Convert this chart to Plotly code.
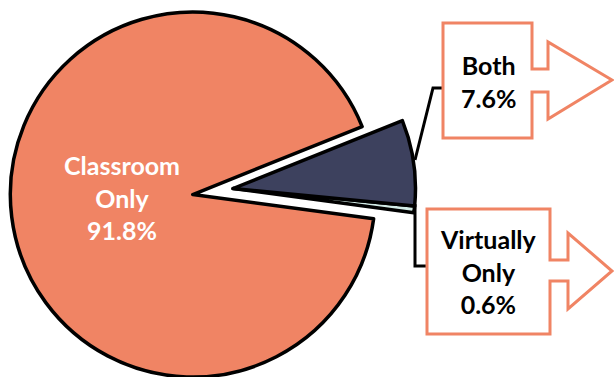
import plotly.graph_objects as go

# Share of students by learning mode
labels = ["Virtually Only", "Both", "Classroom Only"]
shares = [0.6, 7.6, 91.8]
slice_colors = ["#D3EBE6", "#3D415E", "#F08464"]

W, H = 614, 377
CLEAR = "rgba(0,0,0,0)"
OUTLINE = "#000000"
CALLOUT = "#F08464"
FONT = "Lato"


def px(x, y):
    """Pixel position -> paper coordinates."""
    return x / W, 1 - y / H


def label_text(i):
    return "<br>".join(labels[i].split(" ") + [f"{shares[i]:.1f}%"])


common = dict(
    labels=labels,
    values=shares,
    sort=False,
    direction="counterclockwise",
    rotation=95.5,
    textinfo="none",
    hoverinfo="label+percent",
    showlegend=False,
)

fig = go.Figure()

# Main body: Classroom Only
fig.add_trace(go.Pie(
    **common,
    domain=dict(x=[0.004, 0.624], y=[0.0, 0.968]),
    marker=dict(colors=[CLEAR, CLEAR, slice_colors[2]],
                line=dict(color=OUTLINE, width=[0, 0, 3.5])),
))

# Exploded wedges: Both and Virtually Only
fig.add_trace(go.Pie(
    **common,
    domain=dict(x=[0.0695, 0.6895], y=[0.016, 0.984]),
    marker=dict(colors=[slice_colors[0], slice_colors[1], CLEAR],
                line=dict(color=OUTLINE, width=[3.5, 3.5, 0])),
))


def arrow_callout(left, top, right, bottom, stem_top, stem_bot, stem_r,
                  head_top, head_bot, tip_x, tip_y):
    pts = [(left, top), (right, top), (right, stem_top), (stem_r, stem_top),
           (stem_r, head_top), (tip_x, tip_y), (stem_r, head_bot),
           (stem_r, stem_bot), (right, stem_bot), (right, bottom),
           (left, bottom)]
    p = [px(*q) for q in pts]
    path = "M " + " L ".join(f"{a:.5f},{b:.5f}" for a, b in p) + " Z"
    return dict(type="path", xref="paper", yref="paper", path=path,
                line=dict(color=CALLOUT, width=3), fillcolor="white")


def polyline(points):
    p = [px(*q) for q in points]
    path = "M " + " L ".join(f"{a:.5f},{b:.5f}" for a, b in p)
    return dict(type="path", xref="paper", yref="paper", path=path,
                line=dict(color=OUTLINE, width=3))


shapes = [
    polyline([(415, 160), (433, 88), (444, 88)]),
    polyline([(415, 204), (415, 266), (428, 266)]),
    arrow_callout(443, 23, 532, 138, 69, 92, 548, 42, 119, 612, 80),
    arrow_callout(427, 209, 550, 334, 260, 281, 568, 233, 309, 612, 271),
]

annotations = []
for i, (cx, cy, color) in enumerate([(488, 271, "black"),
                                      (488, 81, "black"),
                                      (122, 197, "white")]):
    x, y = px(cx, cy)
    annotations.append(dict(
        x=x, y=y, xref="paper", yref="paper", xanchor="center",
        yanchor="middle", showarrow=False, text=label_text(i),
        font=dict(family=FONT, size=25, color=color, weight="bold"),
    ))

fig.update_layout(
    width=W, height=H,
    margin=dict(l=0, r=0, t=0, b=0),
    paper_bgcolor="white", plot_bgcolor="white",
    shapes=shapes, annotations=annotations,
)

fig.write_html("out.html")
